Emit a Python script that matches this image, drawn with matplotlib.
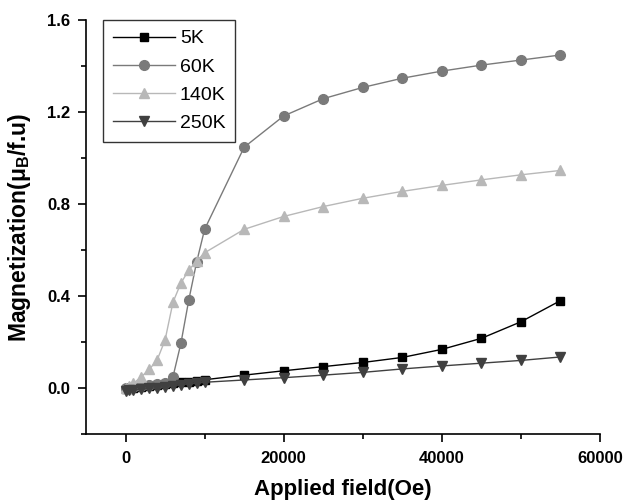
import matplotlib
matplotlib.use("Agg")
import matplotlib.pyplot as plt

plt.rcParams['font.family'] = ['Liberation Sans', 'DejaVu Sans']
plt.rcParams['mathtext.fontset'] = 'custom'
plt.rcParams['mathtext.rm'] = 'Liberation Sans:bold'
plt.rcParams['mathtext.bf'] = 'Liberation Sans:bold'
plt.rcParams['mathtext.it'] = 'Liberation Sans:bold'

# Data
field_low = [0, 500, 1000, 2000, 3000, 4000, 5000, 6000, 7000, 8000, 9000, 10000]
field_high = [15000, 20000, 25000, 30000, 35000, 40000, 45000, 50000, 55000]
field = field_low + field_high

m_5K = [-0.005, -0.003, 0.000, 0.004, 0.008, 0.012, 0.016, 0.020, 0.024, 0.028, 0.032, 0.036,
        0.056, 0.075, 0.093, 0.111, 0.133, 0.168, 0.216, 0.288, 0.380]
m_60K = [0.000, 0.002, 0.004, 0.008, 0.012, 0.016, 0.022, 0.049, 0.194, 0.383, 0.549, 0.690,
         1.047, 1.183, 1.258, 1.307, 1.347, 1.378, 1.404, 1.426, 1.448]
m_140K = [0.000, 0.008, 0.020, 0.049, 0.081, 0.122, 0.209, 0.373, 0.456, 0.513, 0.552, 0.588,
          0.690, 0.746, 0.789, 0.825, 0.855, 0.881, 0.905, 0.927, 0.946]
m_250K = [-0.012, -0.010, -0.008, -0.005, -0.002, 0.002, 0.006, 0.010, 0.014, 0.018, 0.021, 0.025,
          0.035, 0.045, 0.056, 0.068, 0.083, 0.096, 0.108, 0.120, 0.135]

labels = ['5K', '60K', '140K', '250K']
colors = ['#000000', '#7a7a7a', '#b8b8b8', '#404040']
markers = ['s', 'o', '^', 'v']
sizes = [6, 7, 7.5, 7.5]

fig = plt.figure(figsize=(6.25, 5.01), dpi=100)
ax = fig.add_axes([0.1376, 0.1337, 0.8224, 0.8263])

for m, lab, c, mk, ms in zip([m_5K, m_60K, m_140K, m_250K], labels, colors, markers, sizes):
    ax.plot(field, m, color=c, marker=mk, markersize=ms, linewidth=1.0,
            markeredgecolor=c, label=lab)

ax.set_xlim(-5000, 60000)
ax.set_ylim(-0.2, 1.6)
ax.set_xticks([0, 20000, 40000, 60000])
ax.set_xticks([10000, 30000, 50000], minor=True)
ax.set_yticks([0.0, 0.4, 0.8, 1.2, 1.6])
ax.set_yticks([-0.2, 0.2, 0.6, 1.0, 1.4], minor=True)
ax.set_yticklabels(['0.0', '0.4', '0.8', '1.2', '1.6'])
ax.tick_params(which='major', direction='out', length=5.5, width=1.2, labelsize=12)
ax.tick_params(which='minor', direction='out', length=3.5, width=1.2)
ax.tick_params(axis='x', which='major', pad=7)
ax.tick_params(axis='y', which='major', pad=6)
for lbl in ax.get_xticklabels() + ax.get_yticklabels():
    lbl.set_fontweight('bold')

ax.spines['top'].set_visible(False)
ax.spines['right'].set_visible(False)
ax.spines['left'].set_linewidth(1.2)
ax.spines['bottom'].set_linewidth(1.2)

ax.set_xlabel('Applied field(Oe)', fontsize=16, fontweight='bold', labelpad=9)
ax.set_ylabel('Magnetization(μ$_\\mathbf{B}$/f.u)', fontsize=16.5, fontweight='bold', labelpad=10)

leg = ax.legend(loc='upper left', bbox_to_anchor=(0.033, 1.0), fontsize=14,
                handlelength=3.2, handletextpad=0.25, borderpad=0.5, labelspacing=0.55,
                frameon=True, fancybox=False, edgecolor='black', borderaxespad=0)
leg.get_frame().set_linewidth(1.0)

fig.savefig('out.png', dpi=100)
